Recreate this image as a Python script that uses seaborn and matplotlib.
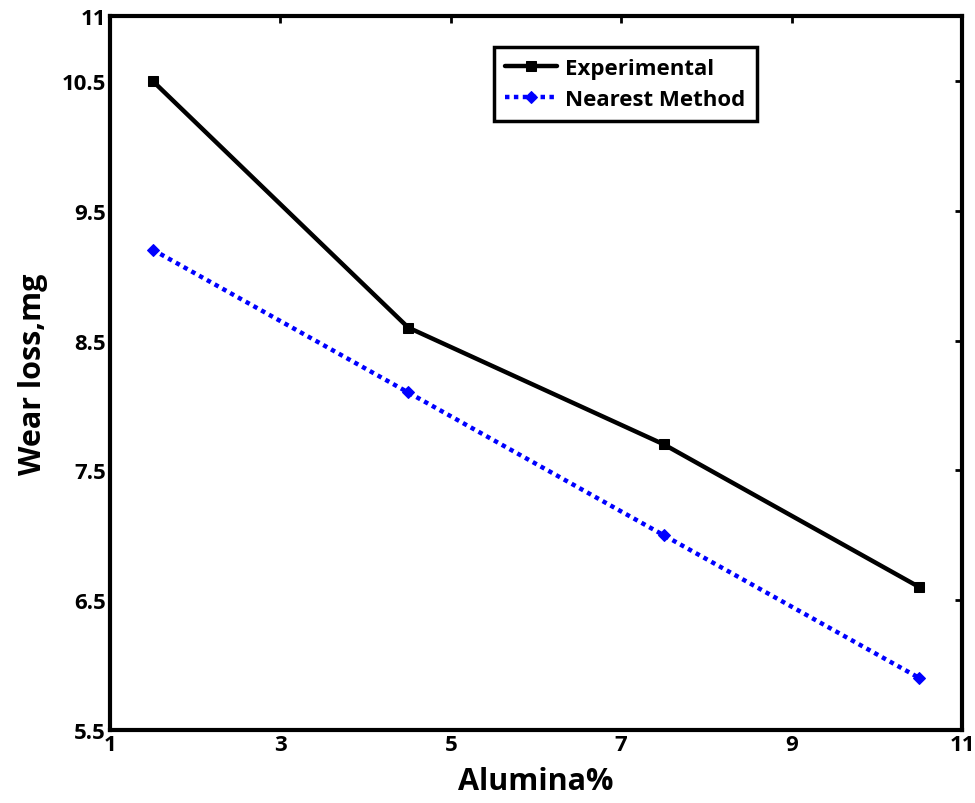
import matplotlib
matplotlib.use("Agg")
import matplotlib.pyplot as plt
import seaborn as sns
import pandas as pd

alumina = [1.5, 4.5, 7.5, 10.5]
experimental = [10.5, 8.6, 7.7, 6.6]
nearest = [9.2, 8.1, 7.0, 5.9]
x_ticks = [1, 3, 5, 7, 9, 11]
y_ticks = [5.5, 6.5, 7.5, 8.5, 9.5, 10.5, 11]

sns.set_style("white")
plt.rcParams['font.family'] = ['Open Sans', 'DejaVu Sans']
plt.rcParams['font.weight'] = 'bold'
plt.rcParams['text.color'] = 'black'
plt.rcParams['axes.labelcolor'] = 'black'
plt.rcParams['xtick.color'] = 'black'
plt.rcParams['ytick.color'] = 'black'

df = pd.DataFrame({
    "Alumina": alumina * 2,
    "Wear": experimental + nearest,
    "Series": ["Experimental"] * 4 + ["Nearest Method"] * 4,
})

fig = plt.figure(figsize=(9.75, 8.04), dpi=100)
ax = fig.add_axes([0.1128, 0.0908, 0.8739, 0.8881])

sns.lineplot(data=df[df.Series == "Experimental"], x="Alumina", y="Wear", ax=ax,
             color="black", lw=3.2, marker="s", markersize=7, markeredgecolor="black",
             label="Experimental")
sns.lineplot(data=df[df.Series == "Nearest Method"], x="Alumina", y="Wear", ax=ax,
             color="#0000ff", lw=3.2, marker="D", markersize=6.5, markeredgecolor="#0000ff",
             linestyle=(0, (1, 1)), label="Nearest Method")

ax.set_xlim(1, 11)
ax.set_ylim(5.5, 11)
ax.set_xticks(x_ticks)
ax.set_xticklabels([str(v) for v in x_ticks])
ax.set_yticks(y_ticks)
ax.set_yticklabels([f"{v:g}" for v in y_ticks])
ax.tick_params(direction="in", length=5, width=2, top=True, right=True,
               labelsize=16, pad=3, colors="black")
for lab in ax.get_xticklabels() + ax.get_yticklabels():
    lab.set_fontweight("bold")
for s in ax.spines.values():
    s.set_linewidth(3)
    s.set_color("black")

ax.set_xlabel("Alumina%", fontsize=22, fontweight="bold", labelpad=8)
ax.set_ylabel("Wear loss,mg", fontsize=22, fontweight="bold", labelpad=10)

leg = ax.legend(loc="upper left", bbox_to_anchor=(0.438, 0.972), fontsize=16,
                frameon=True, fancybox=False, edgecolor="black", framealpha=1,
                handlelength=2.3, borderpad=0.5, labelspacing=0.45, handletextpad=0.4)
leg.get_frame().set_linewidth(2.5)
for t in leg.get_texts():
    t.set_fontweight("bold")

fig.savefig("out.png", dpi=100)
